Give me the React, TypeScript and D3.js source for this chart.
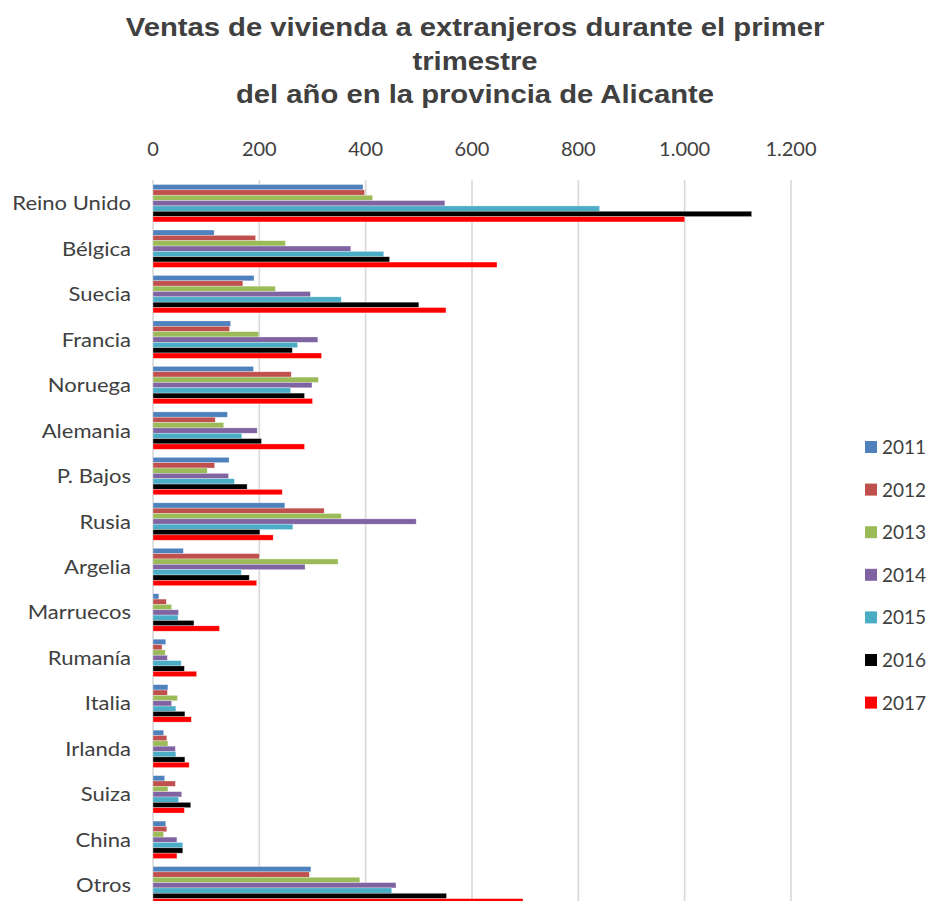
import React from "react";
import * as d3 from "d3";

const categories = ["Reino Unido", "Bélgica", "Suecia", "Francia", "Noruega", "Alemania", "P. Bajos", "Rusia", "Argelia", "Marruecos", "Rumanía", "Italia", "Irlanda", "Suiza", "China", "Otros"];
const years = ["2011", "2012", "2013", "2014", "2015", "2016", "2017"];
const colors = ["#4F81BD", "#C0504D", "#9BBB59", "#8064A2", "#4BACC6", "#000000", "#FF0000"];

const v2011 = [395, 115, 190, 146, 189, 140, 143, 248, 57, 11, 24, 28, 20, 22, 24, 297];
const v2012 = [398, 193, 169, 144, 260, 117, 116, 322, 200, 25, 17, 27, 26, 42, 26, 294];
const v2013 = [413, 249, 230, 199, 311, 133, 102, 354, 348, 35, 23, 46, 28, 28, 20, 389];
const v2014 = [549, 372, 296, 310, 299, 196, 142, 495, 286, 48, 27, 35, 42, 54, 45, 457];
const v2015 = [840, 434, 354, 272, 259, 167, 153, 263, 166, 47, 53, 43, 43, 48, 56, 449];
const v2016 = [1126, 445, 500, 262, 285, 204, 177, 201, 181, 77, 59, 60, 60, 71, 56, 552];
const v2017 = [1000, 647, 551, 317, 300, 285, 243, 226, 195, 125, 82, 72, 68, 59, 45, 696];
const series = [v2011, v2012, v2013, v2014, v2015, v2016, v2017];

const xTicks = [0, 200, 400, 600, 800, 1000, 1200];
const titleLines = ["Ventas de vivienda a extranjeros durante el primer", "trimestre", "del año en la provincia de Alicante"];

const fmt = (v: number) => d3.format(",")(v).replace(/,/g, ".");

export default function App() {
  const W = 930, H = 901;
  const x = d3.scaleLinear().domain([0, 1200]).range([153, 791]);
  const y = d3.scaleBand<string>().domain(categories).range([180.5, 908]).paddingInner(0.177).paddingOuter(0.0885);
  const yi = d3.scaleBand<string>().domain(years).range([0, y.bandwidth()]);
  const font = "Lato, 'Open Sans', sans-serif";
  const txt = "#404040";
  return (
    <svg width={W} height={H} style={{ position: "absolute", left: 0, top: 0, background: "#fff" }}>
      <rect x={0} y={0} width={W} height={H} fill="#fff" />
      {titleLines.map((t, i) => (
        <text key={i} transform={`translate(475,${36 + i * 33.5}) scale(1.17,1)`} x={0} y={0} textAnchor="middle" fontFamily="'Liberation Sans', Arial, sans-serif" fontWeight="bold" fontSize={25} fill={txt}>{t}</text>
      ))}
      {xTicks.map((t) => (
        <g key={t}>
          <line x1={x(t)} x2={x(t)} y1={180} y2={908} stroke="#d9d9d9" strokeWidth={1.6} />
          <text x={x(t)} y={156} textAnchor="middle" fontFamily={font} fontSize={20} fill={txt}>{fmt(t)}</text>
        </g>
      ))}
      {categories.map((c, ci) => (
        <g key={c}>
          <text transform={`translate(131,${(y(c) as number) + y.bandwidth() / 2 + 7}) scale(1.13,1)`} x={0} y={0} textAnchor="end" fontFamily={font} fontSize={19.5} fill={txt}>{c}</text>
          {series.map((s, si) => (
            <rect key={si} x={x(0)} y={(y(c) as number) + (yi(years[si]) as number)} width={x(s[ci]) - x(0)} height={yi.bandwidth()} fill={colors[si]} stroke="#ffffff" strokeOpacity={0.5} strokeWidth={0.6} />
          ))}
        </g>
      ))}
      {years.map((yr, i) => (
        <g key={yr}>
          <rect x={865} y={441 + i * 42.6} width={12} height={12} fill={colors[i]} />
          <text x={882} y={454 + i * 42.6} fontFamily={font} fontSize={19} fill={txt}>{yr}</text>
        </g>
      ))}
    </svg>
  );
}
